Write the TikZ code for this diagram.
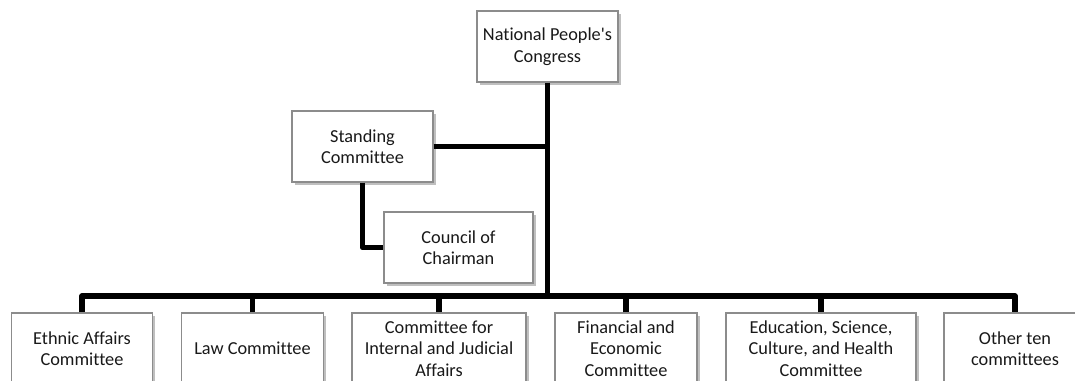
\documentclass[tikz,border=0pt]{standalone}
\usepackage{fontspec}
\setmainfont[Ligatures={TeXOff,CommonOff}]{Carlito}
\usetikzlibrary{shadows}
\begin{document}
\begin{tikzpicture}[x=1pt,y=-1pt,
  box/.style={draw=black!45, line width=1.1pt, fill=white, align=center,
    inner sep=2pt, minimum height=71pt, text=black!90,
    font=\fontsize{18.3}{21.5}\selectfont,
    drop shadow={shadow xshift=2.5pt, shadow yshift=-3pt, opacity=0.25, fill=black}},
  conn/.style={line width=5.5pt, black, line join=round}]
\useasboundingbox (0,0) rectangle (1075,380);
\clip (0,0) rectangle (1075,380);
% nodes
\node[box, minimum width=141pt] (npc) at (547.5,46.5) {National People's\\Congress};
\node[box, minimum width=141pt] (sc) at (362.5,146.5) {Standing\\Committee};
\node[box, minimum width=149pt] (cc) at (458.5,247.5) {Council of\\Chairman};
\node[box, minimum width=141pt] (b1) at (82,348.5) {Ethnic Affairs\\Committee};
\node[box, minimum width=142pt] (b2) at (252.5,348.5) {Law Committee};
\node[box, minimum width=174pt] (b3) at (439,348.5) {Committee for\\Internal and Judicial\\Affairs};
\node[box, minimum width=142pt] (b4) at (626,348.5) {Financial and\\Economic\\Committee};
\node[box, minimum width=190pt] (b5) at (821,348.5) {Education, Science,\\Culture, and Health\\Committee};
\node[box, minimum width=142pt] (b6) at (1015,348.5) {Other ten\\committees};
\coordinate (bus) at (548.5,296);
% connectors
\draw[conn] (npc.south) -- (npc.south |- bus);
\draw[conn] (sc.east) -- (sc.east -| npc.south);
\draw[conn] (sc.south) |- (cc.west);
\draw[conn] (b1.north) |- (b6.north |- bus) -- (b6.north);
\draw[conn] (b2.north) -- (b2.north |- bus);
\draw[conn] (b3.north) -- (b3.north |- bus);
\draw[conn] (b4.north) -- (b4.north |- bus);
\draw[conn] (b5.north) -- (b5.north |- bus);
\end{tikzpicture}
\end{document}
